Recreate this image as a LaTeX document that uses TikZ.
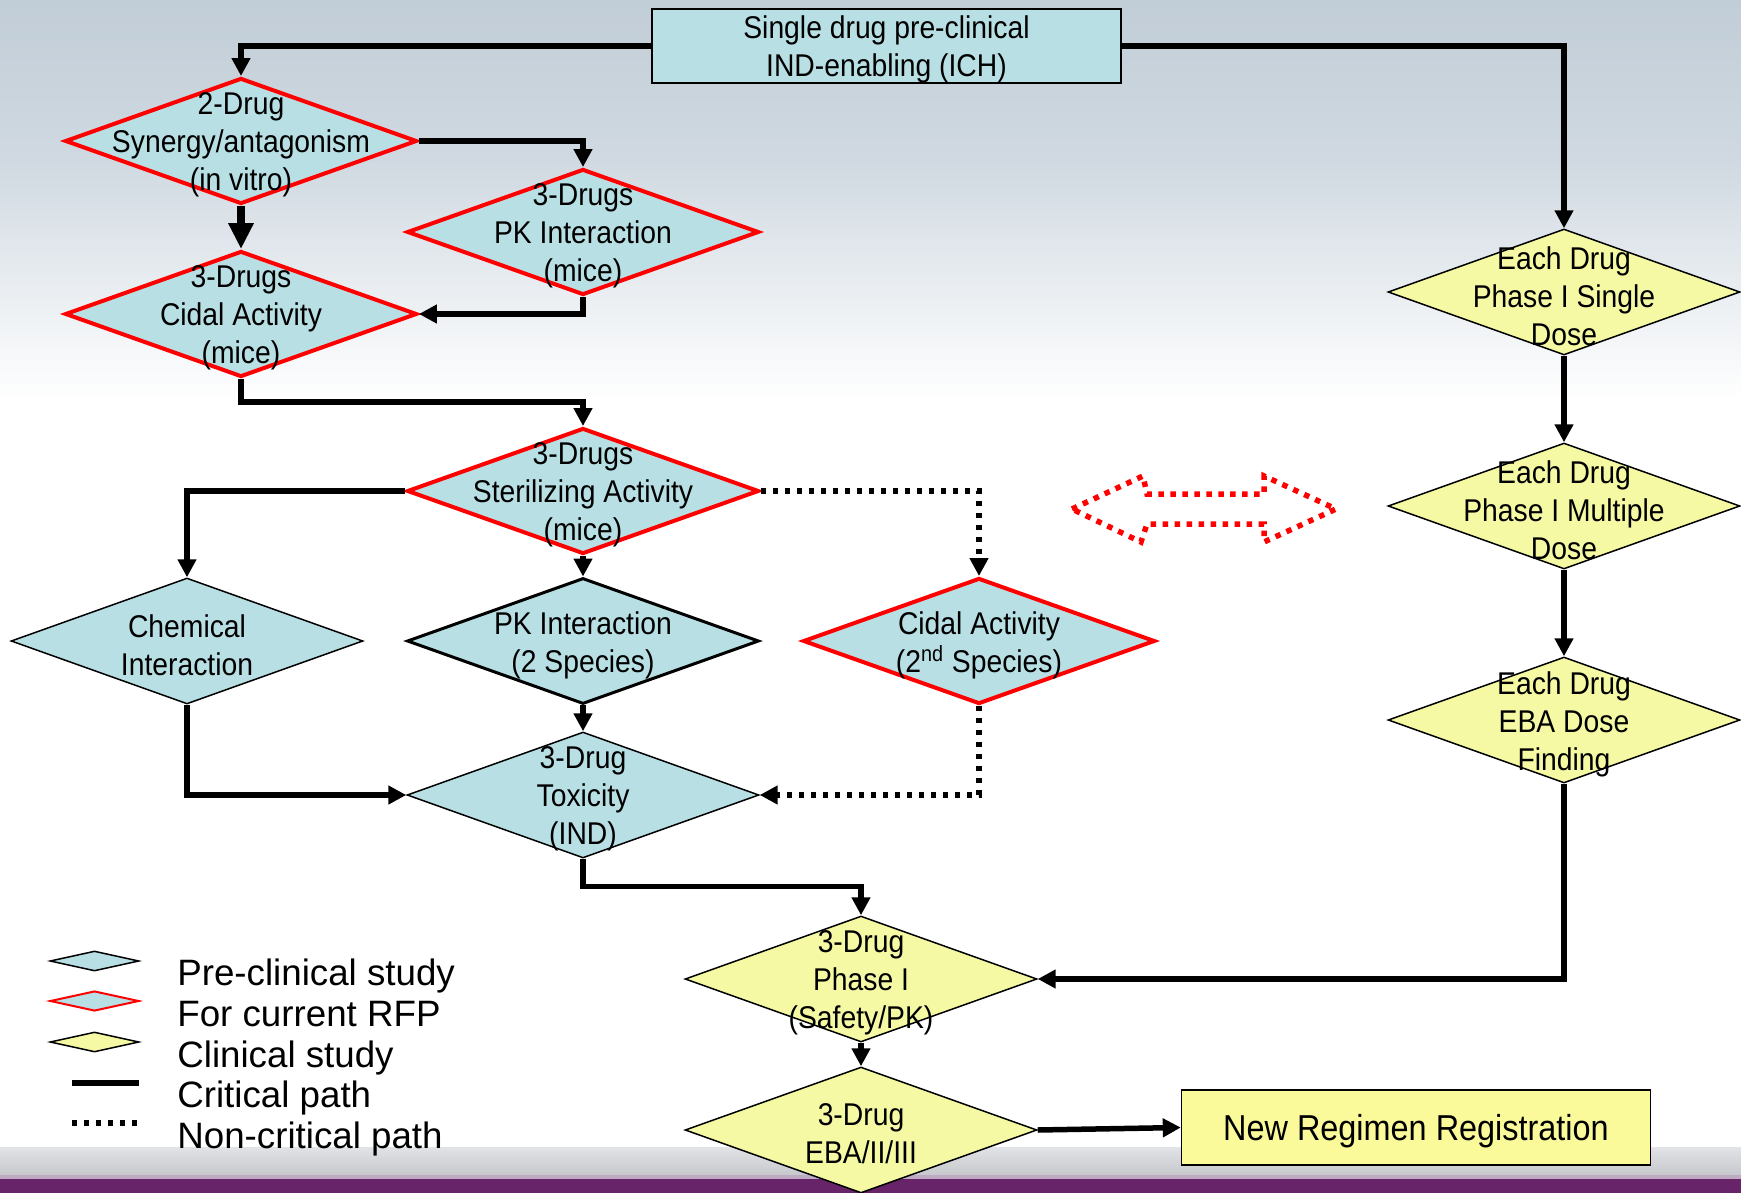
\documentclass[tikz,border=0pt]{standalone}
\usepackage{fontspec}
\setmainfont{Liberation Sans}[FakeStretch=0.9]
\newfontfamily\legendfont{Liberation Sans}
\usetikzlibrary{shapes.geometric,arrows.meta}
\definecolor{prefill}{RGB}{184,224,228}
\definecolor{clinfill}{RGB}{245,249,163}
\definecolor{regfill}{RGB}{250,250,155}
\definecolor{rfpred}{RGB}{255,0,0}
\definecolor{bgtop}{RGB}{193,205,215}
\definecolor{bgmid}{RGB}{208,217,225}
\definecolor{bandtop}{RGB}{226,227,230}
\definecolor{bandbot}{RGB}{198,200,205}
\definecolor{bandline}{RGB}{190,170,195}
\definecolor{purpleband}{RGB}{104,36,104}
\begin{document}
\begin{tikzpicture}[x=0.02cm,y=-0.02cm,
        pre/.style={diamond,draw=black,line width=0.03cm,fill=prefill,minimum width=7.04cm,minimum height=2.52cm,inner sep=0pt},
        rfp/.style={pre,draw=rfpred,line width=0.08cm},
        clin/.style={pre,fill=clinfill},
        dtext/.style={align=center,inner sep=0pt,yshift=-0.08cm,font=\fontsize{17.9pt}{21.6pt}\selectfont},
        studybox/.style={draw=black,line width=0.03cm,inner sep=0pt,text depth=0pt,align=center,font=\fontsize{17.9pt}{21.6pt}\selectfont},
        keytext/.style={inner sep=0pt,font=\legendfont\fontsize{20.9pt}{24pt}\selectfont},
        flow/.style={line width=0.11cm,-{Triangle[length=0.36cm,width=0.36cm]}},
        bigflow/.style={line width=0.17cm,-{Triangle[length=0.52cm,width=0.48cm]}},
        nflow/.style={flow,dash pattern=on 0.11cm off 0.13cm}]
        \useasboundingbox (0,0) rectangle (1741,1193);
        \fill[white] (0,0) rectangle (1741,1193);
        \shade[top color=bgtop,bottom color=bgmid] (0,0) rectangle (1741,160);
        \shade[top color=bgmid,bottom color=white] (0,160) rectangle (1741,400);
        \shade[top color=bandtop,bottom color=bandbot] (0,1147) rectangle (1741,1175);
        \fill[bandline] (0,1175) rectangle (1741,1179);
        \fill[purpleband] (0,1179) rectangle (1741,1193);

        \node[studybox,fill=prefill,minimum width=9.38cm,minimum height=1.48cm] (ind) at (886.5,46)
            {Single drug pre-clinical\\IND-enabling (ICH)};
        \node[rfp,label={[dtext]center:2-Drug\\Synergy/antagonism\\(in vitro)}] (syn) at (241,141) {};
        \node[rfp,label={[dtext]center:3-Drugs\\PK Interaction\\(mice)}] (pkm) at (583,232) {};
        \node[rfp,label={[dtext]center:3-Drugs\\Cidal Activity\\(mice)}] (cidm) at (241,314) {};
        \node[rfp,label={[dtext]center:3-Drugs\\Sterilizing Activity\\(mice)}] (ster) at (583,491) {};
        \node[pre,label={[dtext]center:Chemical\\Interaction}] (chem) at (187,641) {};
        \node[pre,line width=0.06cm,label={[dtext]center:PK Interaction\\(2 Species)}] (pktwo) at (583,641) {};
        \node[rfp,label={[dtext]center:Cidal Activity\\(2\textsuperscript{nd} Species)}] (cidtwo) at (979,641) {};
        \node[pre,label={[dtext]center:3-Drug\\Toxicity\\(IND)}] (tox) at (583,795) {};
        \node[clin,label={[dtext]center:3-Drug\\Phase I\\(Safety/PK)}] (phone) at (861,979) {};
        \node[clin,label={[dtext]center:3-Drug\\EBA/II/III}] (eba) at (861,1130) {};
        \node[clin,label={[dtext]center:Each Drug\\Phase I Single\\Dose}] (single) at (1564,292) {};
        \node[clin,label={[dtext]center:Each Drug\\Phase I Multiple\\Dose}] (multi) at (1564,506) {};
        \node[clin,label={[dtext]center:Each Drug\\EBA Dose\\Finding}] (ebadose) at (1564,720) {};
        \node[studybox,fill=regfill,minimum width=9.38cm,minimum height=1.5cm,font=\fontsize{20.5pt}{24pt}\selectfont] (reg) at (1416,1127.5)
            {New Regimen Registration};

        \draw[flow] (ind.west) -| (syn.north);
        \draw[flow] (ind.east) -| (single.north);
        \draw[flow] (syn.east) -| (pkm.north);
        \draw[bigflow] (syn.south) -- (cidm.north);
        \draw[flow] (pkm.south) |- (cidm.east);
        \draw[flow] (cidm.south) -- ++(0,23) -| (ster.north);
        \draw[flow] (ster.west) -| (chem.north);
        \draw[flow] (ster.south) -- (pktwo.north);
        \draw[nflow] (ster.east) -| (cidtwo.north);
        \draw[flow] (chem.south) |- (tox.west);
        \draw[flow] (pktwo.south) -- (tox.north);
        \draw[nflow] (cidtwo.south) |- (tox.east);
        \draw[flow] (tox.south) -- ++(0,28) -| (phone.north);
        \draw[flow] (single.south) -- (multi.north);
        \draw[flow] (multi.south) -- (ebadose.north);
        \draw[flow] (ebadose.south) |- (phone.east);
        \draw[flow] (phone.south) -- (eba.north);
        \draw[flow] (eba.east) -- (reg.west);

        \draw[rfpred,line width=0.11cm,dash pattern=on 0.11cm off 0.13cm]
            (1072,509) -- (1143,476) -- (1147,494) -- (1264,494) -- (1264,476) -- (1336,509)
            -- (1264,542) -- (1264,524) -- (1147,524) -- (1141,542) -- cycle;

        \node[pre,minimum width=1.78cm,minimum height=0.4cm] (keypre) at (94.5,961) {};
        \node[rfp,line width=0.04cm,minimum width=1.78cm,minimum height=0.4cm] (keyrfp) at (94.5,1001) {};
        \node[clin,minimum width=1.78cm,minimum height=0.4cm] (keyclin) at (94.5,1042) {};
        \draw[line width=0.11cm] (72,1083) -- (139,1083);
        \draw[line width=0.12cm,dash pattern=on 0.11cm off 0.13cm] (72,1123) -- (139,1123);
        \node[keytext,anchor=base west] (keypretext) at (177,985) {Pre-clinical study};
        \node[keytext,anchor=base west] (keyrfptext) at (177,1026) {For current RFP};
        \node[keytext,anchor=base west] (keyclintext) at (177,1067) {Clinical study};
        \node[keytext,anchor=base west] (keycrittext) at (177,1107) {Critical path};
        \node[keytext,anchor=base west] (keynoncrittext) at (177,1148) {Non-critical path};
\end{tikzpicture}
\end{document}
